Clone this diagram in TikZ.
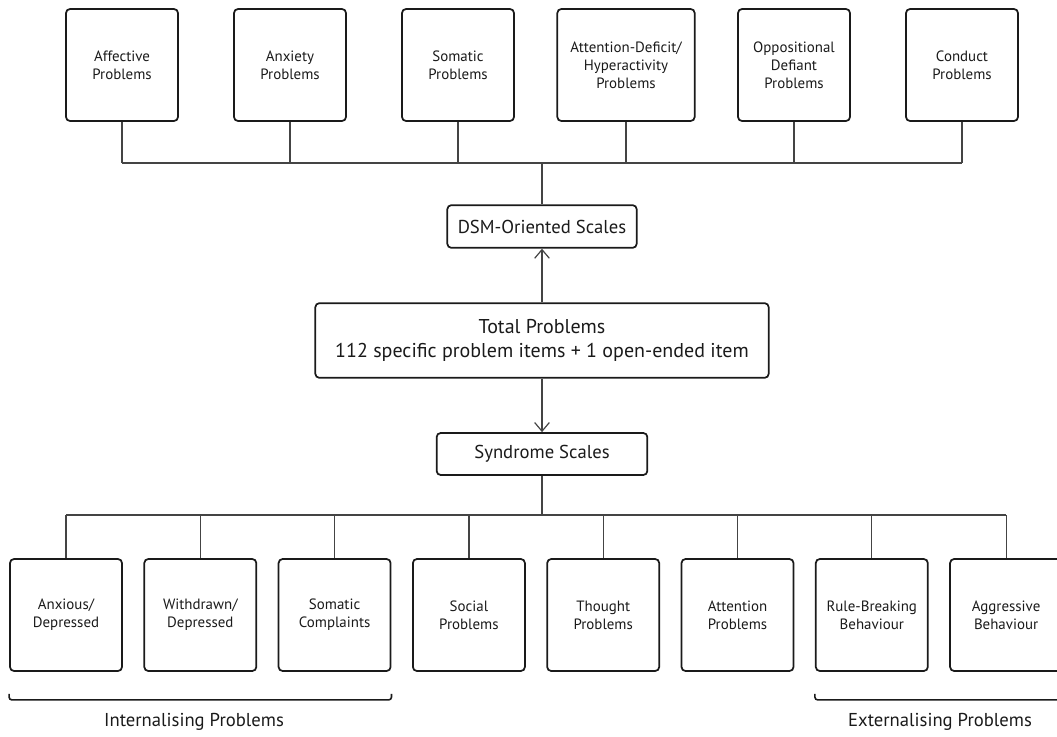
\documentclass[tikz,border=0pt]{standalone}
\usepackage{fontspec}
\setmainfont{PT Sans}
\usepackage{xcolor}
\definecolor{cl}{HTML}{444444}
\definecolor{cd}{HTML}{1a1a1a}
\usetikzlibrary{arrows.meta,positioning,calc}

\begin{document}
\begin{tikzpicture}[
  x=0.75pt, y=-0.75pt, >={Straight Barb[length=6.5pt,width=11pt]},
  scalebox/.style={rectangle, rounded corners=3pt, draw=cd, line width=1.3pt, text=cd,
    minimum width=84pt, minimum height=84pt, inner sep=1pt, align=center,
    font=\fontsize{11.2}{13.5}\selectfont},
  headbox/.style={rectangle, rounded corners=3pt, draw=cd, line width=1.3pt, text=cd,
    align=center, font=\fontsize{14}{17}\selectfont},
  conn/.style={draw=cl, line width=0.9pt},
  grp/.style={text=cd, font=\fontsize{14}{16}\selectfont},
]
  \useasboundingbox (0,0) rectangle (1057,736);

  % DSM-oriented scales
  \foreach \n/\w/\t [count=\i from 0] in {aff/84/{Affective\\Problems}, anx/84/{Anxiety\\Problems},
      som/84/{Somatic\\Problems}, adh/103/{Attention-Deficit/\\Hyperactivity\\Problems},
      odd/84/{Oppositional\\Defiant\\Problems}, con/84/{Conduct\\Problems}}
    \node[scalebox, minimum width=\w pt] (\n) at (122+168*\i, 65) {\t};

  \node[headbox, minimum width=142pt, minimum height=32pt] (dsm) at (542,226.5) {DSM-Oriented Scales};
  \node[headbox, minimum width=340pt, minimum height=56pt, font=\fontsize{15}{17.5}\selectfont] (total) at (542,340.5)
    {Total Problems\\112 specific problem items + 1 open-ended item};
  \node[headbox, minimum width=158pt, minimum height=31.5pt] (syn) at (542,454) {Syndrome Scales};

  % syndrome scales
  \foreach \n/\t [count=\i from 0] in {axd/{Anxious/\\Depressed}, wdd/{Withdrawn/\\Depressed},
      smc/{Somatic\\Complaints}, soc/{Social\\Problems}, tho/{Thought\\Problems},
      att/{Attention\\Problems}, rbb/{Rule-Breaking\\Behaviour}, agg/{Aggressive\\Behaviour}}
    \node[scalebox] (\n) at (66+134.3*\i, 615) {\t};

  \coordinate (topbus) at (542,163);
  \coordinate (botbus) at (542,515);

  \foreach \n in {aff,anx,som,adh,odd,con}
    \draw[conn] (\n.south) -- (\n.south |- topbus);
  \draw[conn] (aff.south |- topbus) -- (con.south |- topbus);
  \draw[conn] (topbus) -- (dsm.north);

  \draw[conn, ->] (total) -- (dsm);
  \draw[conn, ->] (total) -- (syn);

  \draw[conn] (syn.south) -- (botbus);
  \foreach \n in {axd,wdd,smc,soc,tho,att,rbb,agg}
    \draw[conn] (\n.north) -- (\n.north |- botbus);
  \draw[conn] (axd.north |- botbus) -- (agg.north |- botbus);

  % groups
  \draw[draw=cd, line width=1.2pt, rounded corners=2pt]
    ($(axd.south west)+(0,22)$) -- ($(axd.south west)+(0,28)$) -- ($(smc.south east)+(0,28)$) -- ($(smc.south east)+(0,22)$);
  \draw[draw=cd, line width=1.2pt, rounded corners=2pt]
    ($(rbb.south west)+(0,22)$) -- ($(rbb.south west)+(0,28)$) -- ($(agg.south east)+(20,28)$);
  \node[grp] (intl) at (194,722) {Internalising Problems};
  \node[grp] (extl) at (940,722) {Externalising Problems};
\end{tikzpicture}
\end{document}
